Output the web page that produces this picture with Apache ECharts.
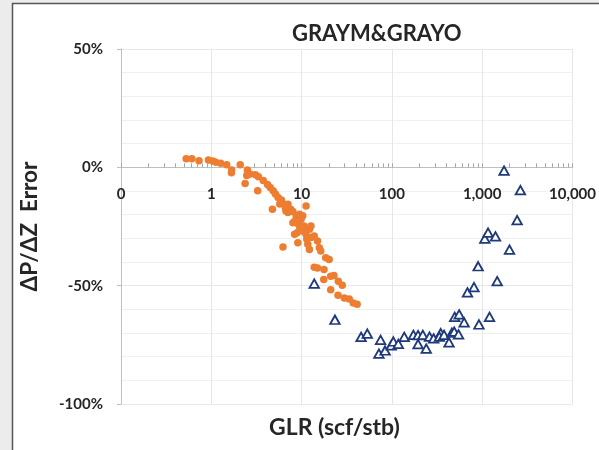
<!DOCTYPE html>
<html>
<head>
<meta charset="utf-8">
<script src="https://cdn.jsdelivr.net/npm/echarts@6/dist/echarts.min.js"></script>
<style>html,body{margin:0;padding:0;background:#ececec}#c{width:599px;height:450px}</style>
</head>
<body>
<div id="c"></div>
<script>
// Orange circles: GLR (scf/stb) and ΔP/ΔZ error (%)
const orangeGLR = [0.527,0.608,0.731,0.929,1.04,1.12,1.27,1.48,1.68,1.67,2.09,2.51,2.47,2.37,3.08,3.32,3.26,3.76,4.19,4.49,4.84,5.13,5.49,4.75,5.97,6.22,5.73,6.59,7.06,7.56,8.01,8.71,8.49,9.48,9.88,9.25,10.6,11.2,10.3,8.92,11.2,12.2,12.7,13.8,6.22,9.08,11.7,12.2,15.0,15.7,16.3,18.5,20.2,13.8,15.0,17.7,17.6,21.0,22.8,25.5,28.2,21.0,25.3,29.7,33.7,37.3,41.2,8.36,7.06,8.01,12.7,10.3,2.69,6.71,9.55,11.4];
const orangeErr = [3.6,3.6,2.8,3.1,2.7,2.1,1.7,1.1,-1.1,-2.3,1.1,-1.1,-3.4,-6.8,-3.1,-4.0,-9.9,-5.6,-7.3,-8.5,-9.9,-11.3,-12.7,-17.7,-13.8,-15.3,-15.5,-17.0,-19.1,-17.7,-18.7,-20.5,-22.6,-19.8,-21.9,-24.0,-24.8,-16.3,-26.9,-27.6,-28.3,-26.2,-29.7,-29.0,-33.7,-31.9,-32.5,-34.7,-31.1,-34.0,-35.4,-38.2,-38.9,-42.2,-42.5,-43.2,-47.4,-46.0,-45.7,-48.1,-49.8,-51.7,-54.0,-55.2,-55.6,-57.3,-57.8,-28.3,-15.6,-23.4,-24.8,-20.5,-2.8,-18.4,-25.2,-30.3];
// Navy open triangles
const triGLR = [13.8,23.4,45.6,53.4,74.9,71.8,84.1,98.3,103.8,117.8,137,173,195,220,195,240,261,290,347,336,378,429,462,490,547,496,556,631,687,811,902,920,1205,1466,1069,1161,1403,2006,1746,2650,2437];
const triErr = [-49.1,-64.4,-71.6,-70.3,-72.9,-78.7,-77.4,-75.2,-73.6,-74.6,-71.6,-70.8,-70.9,-70.8,-74.7,-76.6,-71.5,-72.3,-70.1,-71.5,-70.8,-74.0,-69.9,-69.4,-70.6,-63.2,-62.1,-65.5,-52.8,-50.6,-41.8,-66.4,-63.2,-48.1,-30.1,-27.6,-29.2,-34.8,-1.4,-9.6,-22.3];
// Axis ticks
const xMajorTicks = [0.1,1,10,100,1000,10000];
const xMinorTicks = [];
for (let d = 0.1; d < 10000; d *= 10) { for (let k = 1; k <= 9; k++) xMinorTicks.push(+(d * k).toPrecision(3)); }
xMinorTicks.push(10000);
const yMin = -100, yMax = 50, yStep = 50;

const gridTop = 49, gridBottom = 46, H = 450;
// place the x axis where y = 0, as in the original
const plotH = H - gridTop - gridBottom;
const zeroOffset = -plotH * (0 - yMin) / (yMax - yMin);

const txt = '#262626';
const font = 'Lato';
const chart = echarts.init(document.getElementById('c'));
chart.setOption({
  backgroundColor: '#ececec',
  animation: false,
  graphic: [{
    type: 'rect', z: -10,
    shape: {x: 12.5, y: 3.5, width: 620, height: 470},
    style: {fill: '#ffffff', stroke: '#555555', lineWidth: 1.5}
  }],
  title: [{
    text: 'GRAYM&GRAYO', left: 287, top: 18,
    textStyle: {fontFamily: font, fontWeight: 'bold', fontSize: 22, color: txt}
  }, {
    text: 'GLR (scf/stb)', left: 264, top: 411,
    textStyle: {fontFamily: font, fontWeight: 'bold', fontSize: 23, color: txt}
  }],
  grid: {left: 121, right: 21, top: gridTop, bottom: gridBottom, containLabel: false},
  xAxis: [{
    type: 'log', logBase: 10, min: 0.1, max: 10000, position: 'bottom', offset: zeroOffset,
    axisLine: {onZero: false, lineStyle: {color: '#bfbfbf', width: 1}},
    axisTick: {show: true, inside: true, length: 4, customValues: xMinorTicks, lineStyle: {color: '#a6a6a6'}},
    axisLabel: {
      customValues: xMajorTicks, margin: 19,
      fontFamily: font, fontWeight: 'bold', fontSize: 15, color: txt,
      formatter: v => v < 1 ? '0' : Math.round(v).toLocaleString('en-US')
    },
    splitLine: {show: false}
  }, {
    type: 'log', logBase: 10, min: 0.1, max: 10000, position: 'bottom',
    axisLine: {show: false, onZero: false}, axisTick: {show: false, customValues: xMajorTicks}, axisLabel: {show: false, customValues: xMajorTicks},
    splitLine: {show: true, lineStyle: {color: '#e6e6e6', width: 1}}
  }],
  yAxis: {
    type: 'value', min: yMin, max: yMax, interval: yStep,
    name: 'ΔP/ΔZ  Error', nameLocation: 'middle', nameGap: 80,
    nameTextStyle: {fontFamily: font, fontWeight: 'bold', fontSize: 22.5, color: txt},
    axisLine: {show: true, onZero: false, lineStyle: {color: '#bfbfbf'}},
    axisTick: {show: true, length: 4, lineStyle: {color: '#bfbfbf'}},
    axisLabel: {formatter: '{value}%', margin: 18, fontFamily: font, fontWeight: 'bold', fontSize: 15, color: txt},
    splitLine: {show: true, lineStyle: {color: '#e8e8e8'}},
    minorTick: {show: false, splitNumber: 5},
    minorSplitLine: {show: true, lineStyle: {color: '#f0f0f0'}}
  },
  series: [{
    name: 'Orange', type: 'scatter', xAxisIndex: 0,
    data: orangeGLR.map((g, i) => [g, orangeErr[i]]),
    symbol: 'circle', symbolSize: 7.5,
    itemStyle: {color: '#ED7D31', opacity: 1}
  }, {
    name: 'Navy', type: 'scatter', xAxisIndex: 0,
    data: triGLR.map((g, i) => [g, triErr[i]]),
    symbol: 'triangle', symbolSize: [9.5, 8.5],
    itemStyle: {color: '#ffffff', borderColor: '#1F3A7A', borderWidth: 1.8, opacity: 1}
  }]
});
</script>
</body>
</html>
